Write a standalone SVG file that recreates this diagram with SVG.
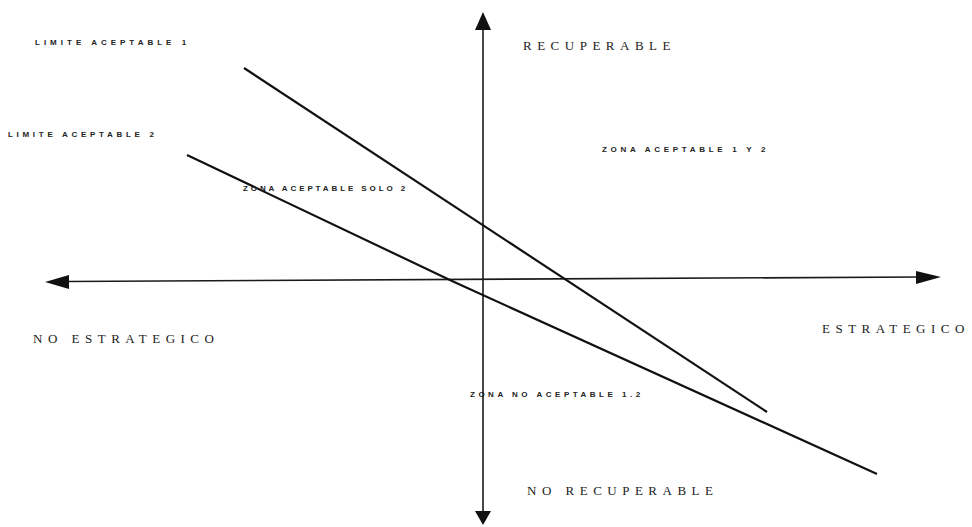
<svg xmlns="http://www.w3.org/2000/svg" width="972" height="527" viewBox="0 0 972 527">
<style>
.ax{stroke:#1a1a1a;stroke-width:1.6;fill:none}
.ln{stroke:#111;stroke-width:2.2;fill:none}
.big{font-family:"Liberation Serif",serif;font-size:13px;fill:#222;letter-spacing:5.5px}
.sm{font-family:"Liberation Sans",sans-serif;font-size:8px;font-weight:bold;fill:#222;letter-spacing:3.7px}
</style>
<rect width="972" height="527" fill="#fff"/>
<g id="connectors">
<line class="ax" x1="483" y1="28" x2="483" y2="512"/>
<polygon points="483,12 475,30 491,30" fill="#111"/>
<polygon points="483,525 475,511 491,511" fill="#111"/>
<line class="ax" x1="66" y1="281.5" x2="920" y2="277"/>
<polygon points="45,282 69,275 69,289" fill="#111"/>
<polygon points="941,277 916,271 916,284" fill="#111"/>
<line id="limite1" class="ln" x1="244" y1="68" x2="767" y2="412"/>
<path id="limite2" class="ln" d="M187,155 L452,281 L877,474"/>
</g>
<g id="recuperable"><text class="big" x="523" y="50">RECUPERABLE</text></g>
<g id="no-recuperable"><text class="big" x="527" y="495">NO RECUPERABLE</text></g>
<g id="no-estrategico"><text class="big" x="33" y="343">NO ESTRATEGICO</text></g>
<g id="estrategico"><text class="big" x="822" y="333">ESTRATEGICO</text></g>
<g id="limite-aceptable-1"><text class="sm" x="35" y="45" style="letter-spacing:4px">LIMITE ACEPTABLE  1</text></g>
<g id="limite-aceptable-2"><text class="sm" x="8" y="137">LIMITE ACEPTABLE 2</text></g>
<g id="zona-aceptable-solo-2"><text class="sm" x="243" y="191" style="letter-spacing:2.9px">ZONA ACEPTABLE SOLO 2</text></g>
<g id="zona-aceptable-1y2"><text class="sm" x="602" y="152">ZONA ACEPTABLE 1 Y 2</text></g>
<g id="zona-no-aceptable"><text class="sm" x="470" y="397" style="letter-spacing:3.5px">ZONA NO ACEPTABLE 1.2</text></g>
</svg>
